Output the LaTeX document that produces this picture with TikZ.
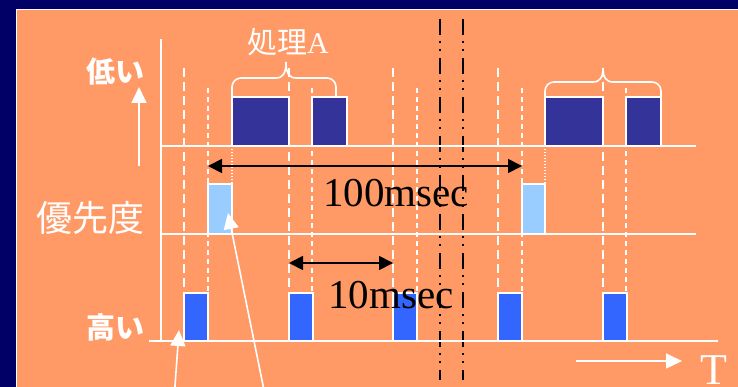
\documentclass[tikz,border=0pt]{standalone}
\usepackage{fontspec}
\setmainfont{Liberation Serif}
\newfontfamily\jp{Noto Sans CJK JP}
\usetikzlibrary{arrows.meta}
\definecolor{navy}{HTML}{000066}
\definecolor{bgorange}{HTML}{FF9966}
\definecolor{darkblk}{HTML}{333399}
\definecolor{midblk}{HTML}{3366FF}
\definecolor{lightblk}{HTML}{99CCFF}
\tikzset{
  axisline/.style={white, line width=2.2pt},
  dashL/.style={white, line width=1.6pt, dash pattern=on 9pt off 5pt},
  dashS/.style={white, line width=1.6pt, dash pattern=on 5pt off 4pt},
  dotline/.style={white, line width=1.4pt, dash pattern=on 1.5pt off 1.5pt},
  dashdotline/.style={black, line width=1.6pt, dash pattern=on 16pt off 6pt on 2pt off 6pt on 2pt off 7pt},
  topblock/.style={fill=darkblk, draw=white, line width=1.2pt},
  midblock/.style={fill=lightblk, draw=white, line width=1.2pt},
  lowblock/.style={fill=midblk, draw=white, line width=1.2pt},
  bracestyle/.style={white, line width=1.6pt},
  blackarrow/.style={black, line width=1.8pt, {Triangle[length=14pt,width=14pt]}-{Triangle[length=14pt,width=14pt]}},
  whitearrow/.style={white, line width=1.6pt, -{Triangle[length=16pt,width=15pt]}},
  label/.style={inner sep=0pt, text=white},
}
\begin{document}
\begin{tikzpicture}[x=1pt,y=-1pt]
\useasboundingbox (0,0) rectangle (738,387);
\clip (0,0) rectangle (738,387);
\fill[navy] (0,0) rectangle (738,387);
\draw[white, line width=1pt, fill=bgorange] (16,10) rectangle (760,400);

% dashed guide lines
\foreach \x in {184,289,393,498,603} \draw[dashL] (\x,68) -- (\x,341);
\foreach \x in {208,312,417,522,626} \draw[dashS] (\x,88) -- (\x,341);
\draw[dotline] (232,146) -- (232,184);
\draw[dotline] (545,146) -- (545,184);

% dash-dot black lines
\draw[dashdotline] (440,19) -- (440,380);
\draw[dashdotline] (463,19) -- (463,380);

% axes
\draw[axisline] (161,39) -- (161,341);
\draw[axisline] (161,146) -- (696,146);
\draw[axisline] (161,234) -- (696,234);
\draw[axisline] (149,341) -- (718,341);

% top row blocks
\draw[topblock] (232,97) rectangle (289,146);
\draw[topblock] (312,97) rectangle (347,146);
\draw[topblock] (545,97) rectangle (603,146);
\draw[topblock] (626,97) rectangle (661,146);

% middle row blocks
\draw[midblock] (208,184) rectangle (232,234);
\draw[midblock] (522,184) rectangle (545,234);

% bottom row blocks
\foreach \x in {184,289,393,498,603} \draw[lowblock] (\x,293) rectangle (\x+24,341);

% braces
\draw[bracestyle, rounded corners=9pt] (232,97) -- (232,78) -- (276,78);
\draw[bracestyle] (276,78) .. controls (283,78) and (286,73) .. (286,62);
\draw[bracestyle] (286,62) .. controls (286,73) and (289,78) .. (296,78);
\draw[bracestyle, rounded corners=9pt] (296,78) -- (336,78) -- (336,97);

\draw[bracestyle, rounded corners=9pt] (545,97) -- (545,82) -- (593,82);
\draw[bracestyle] (593,82) .. controls (600,82) and (603,77) .. (603,68);
\draw[bracestyle] (603,68) .. controls (603,77) and (606,82) .. (613,82);
\draw[bracestyle, rounded corners=9pt] (613,82) -- (661,82) -- (661,97);

% texts
\node[label, font=\fontsize{30}{30}\selectfont] (procA) at (288,42) {{\jp 処理}A};
\node[label, font=\jp\bfseries\fontsize{29}{29}\selectfont] (low) at (115,72) {低い};
\node[label, font=\jp\fontsize{36}{36}\selectfont] (prio) at (90,218) {優先度};
\node[label, font=\jp\bfseries\fontsize{29}{29}\selectfont] (high) at (115,327) {高い};
\node[inner sep=0pt, anchor=base west, font=\fontsize{41}{41}\selectfont] (t100) at (323,207) {100msec};
\node[inner sep=0pt, anchor=base west, font=\fontsize{41}{41}\selectfont] (t10) at (328,308) {10msec};
\node[label, anchor=base west, font=\fontsize{44}{44}\selectfont] (tlab) at (700,384) {T};

% black measurement arrows
\coordinate (a100l) at (208,166);
\coordinate (a100r) at (522,166);
\coordinate (a10l) at (289,263);
\coordinate (a10r) at (393,263);
\draw[blackarrow] (a100l) -- (a100r);
\draw[blackarrow] (a10l) -- (a10r);

% white arrows
\coordinate (upS) at (139,166);
\coordinate (upE) at (139,87);
\draw[whitearrow] (upS) -- (upE);
\coordinate (tS) at (576,361);
\coordinate (tE) at (682,361);
\draw[whitearrow] (tS) -- (tE);
\coordinate (p1S) at (174,400);
\coordinate (p1E) at (179,330);
\draw[whitearrow] (p1S) -- (p1E);
\coordinate (p2S) at (266,400);
\coordinate (p2E) at (228,213);
\draw[whitearrow] (p2S) -- (p2E);
\end{tikzpicture}
\end{document}
